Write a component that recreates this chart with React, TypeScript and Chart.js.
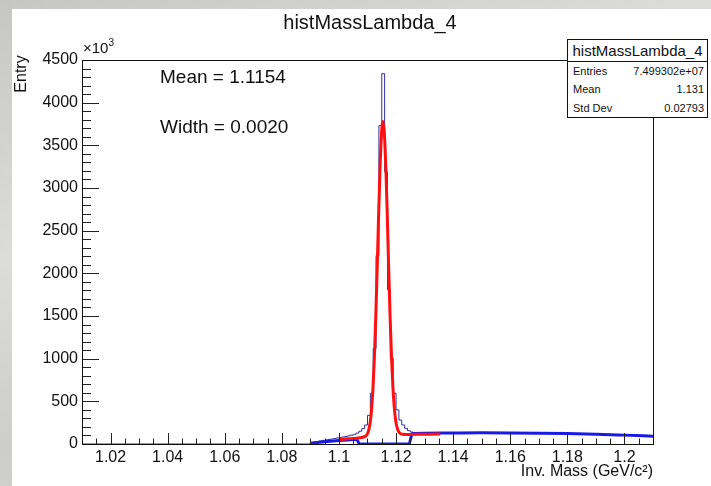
import React, { useEffect, useRef } from "react";
import { Chart, registerables } from "chart.js";

Chart.register(...registerables);

const FONT = "'Liberation Sans', Arial, Helvetica, sans-serif";

// Axis ticks
const xMajorTicks = [1.02, 1.04, 1.06, 1.08, 1.1, 1.12, 1.14, 1.16, 1.18, 1.2];
const yMajorTicks = [0, 500, 1000, 1500, 2000, 2500, 3000, 3500, 4000, 4500];
const X_MIN = 1.01;
const X_MAX = 1.21;
const Y_MAX = 4500;
const X_MINOR_STEP = 0.005;
const Y_MINOR_STEP = 100;

// Histogram (x10^3 entries), bins of width 0.001 starting at 1.090
const histStart = 1.09;
const histBinWidth = 0.001;
const histCounts = [
  18, 24, 30, 36, 42, 48, 53, 58, 64, 70,
  76, 82, 88, 95, 103, 113, 128, 150, 180, 222,
  335, 594, 1120, 2208, 3730, 4340, 3190, 1806, 1005, 594,
  400, 281, 223, 184, 156, 140, 133, 129, 127, 126,
  126, 127, 127, 128, 128, 128, 129, 129, 129, 130,
  130, 130, 131, 130, 131, 131, 131, 132, 131, 132,
  132, 131, 132, 132, 131, 132, 131, 131, 131, 131,
  130, 131, 130, 130, 129, 130, 129, 129, 128, 128,
  128, 127, 127, 126, 126, 125, 125, 124, 124, 123,
  122, 122, 121, 121, 120, 119, 119, 118, 117, 116,
  116, 115, 114, 113, 112, 111, 110, 110, 109, 108,
  107, 106, 105, 104, 103, 101, 100, 99, 98, 97,
];

// Signal + background fit (red)
const fitX = [1.1003, 1.103, 1.106, 1.108, 1.1094, 1.1099, 1.1104, 1.1109, 1.1114, 1.1119, 1.1124, 1.1129, 1.1134, 1.1139, 1.1144, 1.1149, 1.1154, 1.1159, 1.1164, 1.1169, 1.1174, 1.1179, 1.1184, 1.1189, 1.1194, 1.1199, 1.1204, 1.1209, 1.1214, 1.1222, 1.124, 1.128, 1.132, 1.1355];
const fitY = [55, 61, 68, 76, 94, 115, 160, 245, 395, 640, 1000, 1490, 2070, 2690, 3240, 3630, 3780, 3640, 3260, 2710, 2090, 1510, 1025, 665, 420, 270, 188, 145, 125, 114, 112, 113, 115, 116];

// Background function (blue)
const bgX = [1.09, 1.095, 1.1, 1.105, 1.1062, 1.1072, 1.1245, 1.1257, 1.13, 1.14, 1.15, 1.16, 1.17, 1.18, 1.19, 1.2, 1.21];
const bgY = [10, 26, 40, 52, 55, 0, 0, 122, 126, 129, 131, 130, 127, 122, 115, 104, 92];

const rootFrame = {
  id: "rootFrame",
  afterDatasetsDraw(chart: any) {
    const { ctx, chartArea: a, scales } = chart;
    const x = scales.x;
    const y = scales.y;
    ctx.save();
    ctx.strokeStyle = "#222";
    ctx.lineWidth = 1;
    ctx.beginPath();
    for (let v = X_MIN + X_MINOR_STEP; v < X_MAX - 1e-9; v += X_MINOR_STEP) {
      const px = Math.round(x.getPixelForValue(v)) + 0.5;
      const isMajor = xMajorTicks.some((t) => Math.abs(t - v) < 1e-6);
      ctx.moveTo(px, a.bottom);
      ctx.lineTo(px, a.bottom - (isMajor ? 11 : 5.5));
    }
    for (let v = 0; v <= Y_MAX + 1e-9; v += Y_MINOR_STEP) {
      const py = Math.round(y.getPixelForValue(v)) + 0.5;
      const isMajor = yMajorTicks.includes(Math.round(v));
      ctx.moveTo(a.left, py);
      ctx.lineTo(a.left + (isMajor ? 17 : 9), py);
    }
    ctx.stroke();
    ctx.strokeStyle = "#111";
    ctx.strokeRect(Math.round(a.left) + 0.5, Math.round(a.top) + 0.5, Math.round(a.right - a.left), Math.round(a.bottom - a.top));
    ctx.restore();
  },
};

export default function App() {
  const canvasRef = useRef<HTMLCanvasElement | null>(null);

  useEffect(() => {
    const canvas = canvasRef.current;
    if (!canvas) return;
    Chart.defaults.font.family = FONT;

    const histPoints: { x: number; y: number }[] = [{ x: X_MIN, y: 0 }];
    histCounts.forEach((c, i) => {
      histPoints.push({ x: histStart + i * histBinWidth, y: c });
    });
    histPoints.push({ x: histStart + histCounts.length * histBinWidth, y: histCounts[histCounts.length - 1] });

    const chart = new Chart(canvas, {
      type: "line",
      data: {
        datasets: [
          {
            label: "fit",
            data: fitX.map((v, i) => ({ x: v, y: fitY[i] })),
            borderColor: "#ff1010",
            borderWidth: 3,
            pointRadius: 0,
            cubicInterpolationMode: "monotone",
            fill: false,
          },
          {
            label: "background",
            data: bgX.map((v, i) => ({ x: v, y: bgY[i] })),
            borderColor: "#1a1ae6",
            borderWidth: 3,
            pointRadius: 0,
            cubicInterpolationMode: "monotone",
            fill: false,
          },
          {
            label: "hist",
            data: histPoints,
            borderColor: "#3030a0",
            borderWidth: 1,
            pointRadius: 0,
            stepped: true,
            fill: false,
          },
        ],
      },
      options: {
        animation: false,
        responsive: false,
        maintainAspectRatio: false,
        layout: { padding: { left: 0, right: 58, top: 60, bottom: 0 } },
        plugins: { legend: { display: false }, tooltip: { enabled: false }, title: { display: false } },
        scales: {
          x: {
            type: "linear",
            min: X_MIN,
            max: X_MAX,
            afterBuildTicks: (s: any) => {
              s.ticks = xMajorTicks.map((v) => ({ value: v }));
            },
            afterFit: (s: any) => {
              s.height = 42;
            },
            grid: { display: false, drawTicks: false },
            border: { display: false },
            ticks: {
              padding: 4,
              autoSkip: false,
              maxRotation: 0,
              color: "#111",
              font: { family: FONT, size: 16 },
              callback: (v: any) => String(parseFloat(Number(v).toFixed(2))),
            },
            title: {
              display: true,
              text: "Inv. Mass (GeV/c²)",
              align: "end",
              color: "#111",
              font: { family: FONT, size: 16 },
              padding: { top: 0, bottom: 5 },
            },
          },
          y: {
            type: "linear",
            min: 0,
            max: Y_MAX,
            afterBuildTicks: (s: any) => {
              s.ticks = yMajorTicks.map((v) => ({ value: v }));
            },
            afterFit: (s: any) => {
              s.width = 82;
            },
            grid: { display: false, drawTicks: false },
            border: { display: false },
            ticks: {
              padding: 4,
              color: "#111",
              font: { family: FONT, size: 16 },
              callback: (v: any) => String(v),
            },
            title: { display: false },
          },
        },
      },
      plugins: [rootFrame],
    } as any);

    return () => chart.destroy();
  }, []);

  const text: React.CSSProperties = { position: "absolute", fontFamily: FONT, color: "#111", whiteSpace: "nowrap" };

  return (
    <div style={{ position: "fixed", left: 0, top: 0, width: 711, height: 486, overflow: "hidden", background: "linear-gradient(160deg, #c6c6c4 0%, #dcdcda 35%, #cdcdcb 60%, #d9d9d7 100%)" }}>
      <div style={{ position: "absolute", left: 12, top: 9, right: 0, bottom: 0, background: "#ffffff" }} />
      <canvas ref={canvasRef} width={711} height={486} style={{ position: "absolute", left: 0, top: 0, width: 711, height: 486 }} />
      <div style={{ ...text, left: 0, width: 740, top: 10, textAlign: "center", fontSize: 20, lineHeight: "24px" }}>histMassLambda_4</div>
      <div style={{ ...text, left: 1, top: 64, width: 40, height: 20, fontSize: 16, lineHeight: "20px", textAlign: "center", transform: "rotate(-90deg)" }}>Entry</div>
      <div style={{ ...text, left: 83, top: 40, fontSize: 15, lineHeight: "16px" }}>
        ×10<span style={{ fontSize: 10, position: "relative", top: -7 }}>3</span>
      </div>
      <div style={{ ...text, left: 160, top: 66, fontSize: 19, lineHeight: "22px" }}>Mean = 1.1154</div>
      <div style={{ ...text, left: 160, top: 116, fontSize: 19, lineHeight: "22px" }}>Width = 0.0020</div>
      <div style={{ position: "absolute", left: 567, top: 39, width: 139, height: 77, border: "1px solid #111", background: "#fff", fontFamily: FONT, color: "#111", boxSizing: "content-box" }}>
        <div style={{ height: 21, borderBottom: "1px solid #111", textAlign: "center", fontSize: 15, lineHeight: "21px" }}>histMassLambda_4</div>
        {[
          ["Entries", "7.499302e+07"],
          ["Mean", "1.131"],
          ["Std Dev", "0.02793"],
        ].map(([k, v]) => (
          <div key={k} style={{ height: 18.3, display: "flex", justifyContent: "space-between", alignItems: "center", padding: "0 3px 0 5px", fontSize: 11 }}>
            <span>{k}</span>
            <span>{v}</span>
          </div>
        ))}
      </div>
    </div>
  );
}
